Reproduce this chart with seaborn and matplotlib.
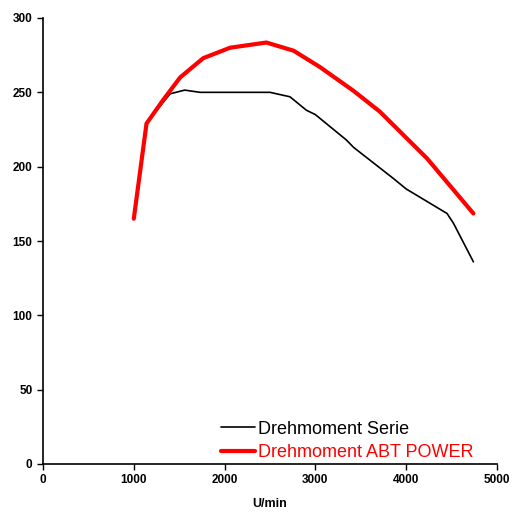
import pandas as pd
import matplotlib
matplotlib.use("Agg")
import matplotlib.pyplot as plt
import seaborn as sns

# Drehmoment (Nm) over engine speed (U/min)
rpm_serie = [1000, 1145, 1400, 1560, 1730, 2000, 2320, 2500, 2720, 2900, 3000,
             3340, 3420, 3860, 4000, 4450, 4520, 4740]
nm_serie = [165, 230, 249, 251.5, 250, 250, 250, 250, 247, 238, 235,
            218, 213, 192, 185, 168.5, 162, 136]

rpm_abt = [1000, 1140, 1325, 1510, 1765, 2060, 2460, 2760, 3050, 3420, 3710,
           4230, 4740]
nm_abt = [165, 229, 245, 260, 273, 280, 283.5, 278, 267, 251, 237,
          205.5, 168.5]

label_serie = "Drehmoment Serie"
label_abt = "Drehmoment ABT POWER"

df = pd.concat([
    pd.DataFrame({"rpm": rpm_serie, "nm": nm_serie, "kurve": label_serie}),
    pd.DataFrame({"rpm": rpm_abt, "nm": nm_abt, "kurve": label_abt}),
])

sns.set_theme(style="ticks")
plt.rcParams["font.family"] = ["Liberation Sans", "DejaVu Sans"]
plt.rcParams["text.color"] = "black"
plt.rcParams["axes.labelcolor"] = "black"

fig = plt.figure(figsize=(5.12, 5.12), dpi=100)
ax = fig.add_axes([43 / 512, 48 / 512, 454 / 512, 446 / 512])

sns.lineplot(data=df, x="rpm", y="nm", hue="kurve", size="kurve",
             palette={label_serie: "black", label_abt: "#ff0000"},
             sizes={label_serie: 1.2, label_abt: 3.0},
             hue_order=[label_serie, label_abt], sort=False,
             ax=ax)

ax.set_xlim(0, 5000)
ax.set_ylim(0, 300)
ax.set_xticks(range(0, 5001, 1000))
ax.set_yticks(range(0, 301, 50))
ax.set_xlabel("U/min", fontsize=9, fontweight="bold", labelpad=8)
ax.set_ylabel("")
ax.tick_params(axis="both", labelsize=8.5, length=4, width=1, direction="out",
               colors="black")
for lbl in ax.get_xticklabels() + ax.get_yticklabels():
    lbl.set_fontweight("bold")
sns.despine(ax=ax)
for side in ["left", "bottom"]:
    ax.spines[side].set_linewidth(1.2)
    ax.spines[side].set_color("black")

handles, labels = ax.get_legend_handles_labels()
leg = ax.legend(handles[-2:], labels[-2:], loc="lower right",
                bbox_to_anchor=(0.985, -0.03), frameon=False, fontsize=13,
                handlelength=1.9, handletextpad=0.2, labelspacing=0.35)
leg.get_texts()[0].set_color("black")
leg.get_texts()[1].set_color("#ff0000")

fig.savefig("out.png", dpi=100)
